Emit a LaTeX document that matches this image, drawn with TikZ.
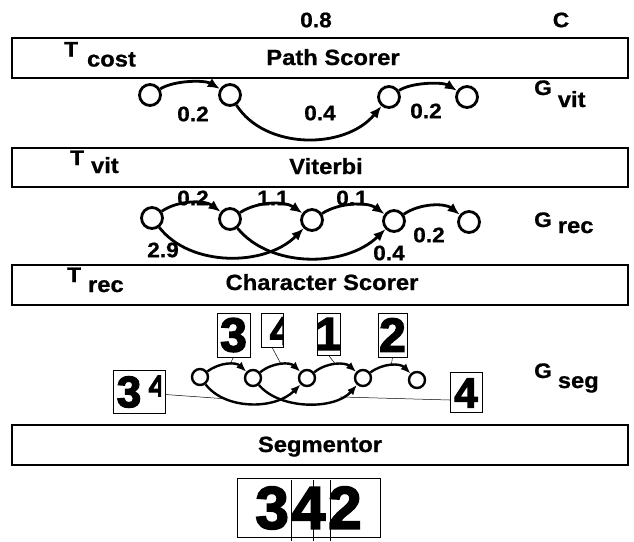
\documentclass[tikz,border=0pt]{standalone}
\usepackage{fontspec}
\setmainfont{Liberation Sans}[FakeStretch=1.08, BoldFeatures={FakeBold=0.8}]
\newfontfamily\heavy{Liberation Sans}[FakeStretch=1.0, BoldFeatures={FakeBold=3}]
\usetikzlibrary{arrows.meta}
\newcommand{\fsz}[1]{\fontsize{#1}{#1}\selectfont}
\begin{document}
\begin{tikzpicture}[x=1pt,y=-1pt,
  every node/.style={font=\bfseries},
  layer/.style={draw, line width=1.8pt, minimum width=616pt, minimum height=40pt, inner sep=0pt},
  title/.style={font=\bfseries\fsz{22}, anchor=base, inner sep=0pt},
  num/.style={font=\bfseries\fsz{21}, inner sep=0pt},
  sym/.style={font=\bfseries\fsz{21}, anchor=base west, inner sep=0pt},
  st/.style={circle, draw, line width=2.8pt, minimum size=21pt, inner sep=0pt},
  sst/.style={circle, draw, line width=2.4pt, minimum size=16pt, inner sep=0pt},
  ed/.style={line width=2.8pt, -{Latex[length=12pt,width=10pt]}},
  sed/.style={line width=2.4pt, -{Latex[length=10pt,width=8pt]}},
  imgbox/.style={draw, line width=0.5pt, inner sep=0pt},
  hw/.style={font=\heavy\bfseries\fsz{#1}, inner sep=0pt},
  link/.style={line width=0.5pt},
]
\useasboundingbox (0,0) rectangle (634,541);

% layer boxes
\node[layer] (b1) at (320,58) {};
\node[layer, minimum height=39pt] (b2) at (320,167.5) {};
\node[layer] (b3) at (320,285) {};
\node[layer] (b4) at (320,445) {};

\node[title] (t1) at (333,65) {Path Scorer};
\node[title] (t2) at (326,174) {Viterbi};
\node[title] (t3) at (322,290) {Character Scorer};
\node[title] (t4) at (320,452) {Segmentor};

% top labels
\node[num] (c08) at (316,20) {0.8};
\node[num] (cC) at (561,20) {C};

% side labels
\node[sym] (tcost) at (64,56.5) {T\hspace{9pt}\raisebox{-10pt}{\fsz{22}cost}};
\node[sym] (tvit) at (70,165) {T\hspace{7pt}\raisebox{-8pt}{\fsz{22}vit}};
\node[sym] (trec) at (67,282) {T\hspace{7pt}\raisebox{-10pt}{\fsz{22}rec}};
\node[sym] (gvit) at (534,95) {G\hspace{6pt}\raisebox{-12pt}{\fsz{22}vit}};
\node[sym] (grec) at (534,227) {G\hspace{6pt}\raisebox{-6pt}{\fsz{22}rec}};
\node[sym] (gseg) at (534,378) {G\hspace{6pt}\raisebox{-10pt}{\fsz{22}seg}};

% G_vit
\node[st] (v1) at (150,95) {};
\node[st] (v2) at (230,95) {};
\node[st] (v3) at (389,97) {};
\node[st] (v4) at (467,97) {};
\draw[ed] (v1) .. controls (175,80) and (205,80) .. (v2);
\draw[ed] (v2) .. controls (265,150) and (345,150) .. (v3);
\draw[ed] (v3) .. controls (412,82) and (443,82) .. (v4);
\node[num] (lv1) at (193,114) {0.2};
\node[num] (lv2) at (320,113) {0.4};
\node[num] (lv3) at (426,111) {0.2};

% G_rec
\node[st] (r1) at (152,218) {};
\node[st] (r2) at (230,219) {};
\node[st] (r3) at (312,220) {};
\node[st] (r4) at (394,221) {};
\node[st] (r5) at (469,222) {};
\draw[ed] (r1) .. controls (178,200) and (205,200) .. (r2);
\draw[ed] (r2) .. controls (258,201) and (285,201) .. (r3);
\draw[ed] (r3) .. controls (340,202) and (368,202) .. (r4);
\draw[ed] (r4) .. controls (420,203) and (445,203) .. (r5);
\draw[ed] (r1) .. controls (190,267) and (265,267) .. (r3);
\draw[ed] (r2) .. controls (270,268) and (345,268) .. (r4);
\node[num] (lr1) at (193,198) {0.2};
\node[num] (lr2) at (273,198) {1.1};
\node[num] (lr3) at (352,198) {0.1};
\node[num] (lr4) at (429,235) {0.2};
\node[num] (lr5) at (163,250) {2.9};
\node[num] (lr6) at (389,253) {0.4};

% G_seg
\node[sst] (s1) at (200,377) {};
\node[sst] (s2) at (253,378) {};
\node[sst] (s3) at (307,378) {};
\node[sst] (s4) at (363,378) {};
\node[sst] (s5) at (417,380) {};
\draw[sed] (s1) .. controls (220,362) and (236,362) .. coordinate[pos=0.55] (m12) (s2);
\draw[sed] (s2) .. controls (273,362) and (290,362) .. coordinate[pos=0.5] (m23) (s3);
\draw[sed] (s3) .. controls (327,362) and (345,362) .. coordinate[pos=0.5] (m34) (s4);
\draw[sed] (s4) .. controls (383,363) and (400,363) .. coordinate[pos=0.5] (m45) (s5);
\draw[sed] (s1) .. controls (225,410) and (275,410) .. coordinate[pos=0.25] (m13) (s3);
\draw[sed] (s2) .. controls (280,410) and (335,410) .. coordinate[pos=0.8] (m24) (s4);

% segment images
\node[hw=48] (i3g) at (233.5,335) {3};
\node[imgbox, minimum width=33pt, minimum height=44pt] (i3) at (233.5,335) {};
\begin{scope}
  \clip (261,313) rectangle (283,347);
  \node[hw=40] (i4ag) at (281,331) {4};
\end{scope}
\node[imgbox, minimum width=22pt, minimum height=34pt] (i4a) at (272,330) {};
\node[hw=46] (i1g) at (328.5,334) {1};
\node[imgbox, minimum width=23pt, minimum height=42pt] (i1) at (328.5,334) {};
\node[hw=48] (i2g) at (392.5,335) {2};
\node[imgbox, minimum width=29pt, minimum height=44pt] (i2) at (392.5,335) {};

\node[hw=44] (i34g) at (129,392) {3};
\begin{scope}
  \clip (142,372) rectangle (161,398);
  \node[hw=30] (i34h) at (157,386) {4};
\end{scope}
\node[imgbox, minimum width=52pt, minimum height=43pt] (i34) at (139,391.5) {};
\node[hw=42] (i4bg) at (466,393) {4};
\node[imgbox, minimum width=32pt, minimum height=40pt] (i4b) at (466,392) {};

\draw[link] (i3.south) -- (m12);
\draw[link] (i4a.south) -- (m23);
\draw[link] (i1.south) -- (m34);
\draw[link] (i2.south) -- (m45);
\draw[link] ([yshift=-3pt]i34.east) -- (m13);
\draw[link] ([yshift=-8pt]i4b.west) -- (m24);

% input image
\node[hw=60] (imgg) at (308.5,508) {3\hspace{3pt}4\hspace{3pt}2};
\node[imgbox, minimum width=143pt, minimum height=59pt] (img) at (308.5,507.5) {};
\draw[link] (291,480) -- (291,541);
\draw[link] (313,480) -- (313,541);
\draw[link] (330,480) -- (330,541);
\end{tikzpicture}
\end{document}
